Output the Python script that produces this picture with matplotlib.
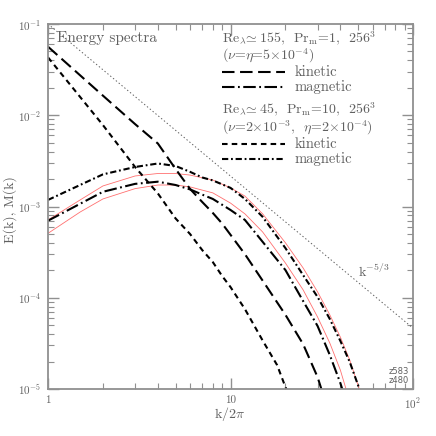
import numpy as np
import matplotlib
matplotlib.use("Agg")
import matplotlib.pyplot as plt

plt.rcParams.update({"font.family": "cmr10", "mathtext.fontset": "cm",
                     "axes.formatter.use_mathtext": True,
                     "lines.scale_dashes": False})

GREY = "#606060"

# Pr_m = 1 run (black curves at integer k)
k_pr1 = [1, 2, 3, 4, 5, 6, 7, 8, 9, 10, 12, 15, 20, 25, 30, 32]
ekin_pr1 = [0.0564, 0.0164, 0.0080, 0.0049, 0.00258, 0.00156, 0.00112, 0.00085,
            0.00065, 0.00049, 0.00030, 1.54e-4, 6.5e-5, 3.1e-5, 1.35e-5, 9.0e-6]
k_mag1 = [1, 2, 3, 4, 5, 6, 7, 8, 10, 12, 15, 20, 25, 30, 35, 40, 42]
emag_pr1 = [0.000699, 0.00145, 0.00177, 0.00187, 0.00172, 0.00154, 0.00135, 0.00121,
            0.000916, 0.000712, 0.00041, 0.000201, 9.2e-5, 4.9e-5, 2.36e-5, 1.16e-5, 8.5e-6]

# Pr_m = 10 run
k_pr10 = [1, 2, 3, 4, 5, 6, 7, 8, 9, 10, 12, 15, 18, 20, 21]
ekin_pr10 = [0.0431, 0.0078, 0.00271, 0.00139, 0.00074, 0.00050, 0.000333, 0.000246,
             0.000173, 0.000131, 7.5e-5, 3.4e-5, 1.83e-5, 1.05e-5, 8.5e-6]
k_mag10 = [1, 2, 3, 4, 5, 6, 7, 8, 10, 12, 15, 20, 25, 30, 35, 40, 45, 50, 52]
emag_pr10 = [0.00118, 0.00225, 0.00271, 0.00296, 0.00278, 0.00240, 0.00208, 0.00193,
             0.0016, 0.00121, 0.00077, 0.00035, 1.77e-4, 1.02e-4, 5.85e-5, 3.36e-5,
             1.98e-5, 1.1e-5, 8.5e-6]

# thin red curves
k_red = [1, 1.5, 2, 3, 4, 5, 6, 8, 10, 12, 15, 20, 25, 30, 35, 40, 45, 50, 52]
red_a = [0.000712, 0.00118, 0.00168, 0.00216, 0.0023, 0.0023, 0.00221, 0.00195, 0.0016,
         0.0013, 0.00083, 0.0004, 2.12e-4, 1.16e-4, 6.5e-5, 3.7e-5, 2.08e-5, 1.1e-5, 8.5e-6]
k_redb = [1, 1.5, 2, 3, 4, 5, 6, 8, 10, 12, 15, 20, 25, 30, 35, 40, 44]
red_b = [0.000508, 0.00087, 0.00121, 0.00157, 0.00172, 0.00172, 0.00164, 0.00141,
         0.00109, 0.00083, 0.000526, 0.00024, 1.22e-4, 6.15e-5, 3.19e-5, 1.61e-5, 8.5e-6]

# k^-5/3 reference
k_ref = [1, 100]
e_ref = [0.1, 4.64e-5]

LONG = (0, (9, 4))
SHORT = (0, (4, 3))
LONGDD = (0, (9, 2.5, 1.3, 2.5))
SHORTDD = (0, (4.5, 2, 1.3, 2))

fig = plt.figure(figsize=(4.36, 4.36), dpi=100)
ax = fig.add_axes([48 / 436, 1 - 389 / 436, 365 / 436, 365 / 436])

ax.plot(k_ref, e_ref, ls=":", color=GREY, lw=0.7)
ax.plot(k_red, red_a, color="#ff7070", lw=0.6)
ax.plot(k_redb, red_b, color="#ff7070", lw=0.6)
ax.plot(k_pr1, ekin_pr1, color="k", lw=1.5, ls=LONG)
ax.plot(k_mag1, emag_pr1, color="k", lw=1.5, ls=LONGDD)
ax.plot(k_pr10, ekin_pr10, color="k", lw=1.5, ls=SHORT)
ax.plot(k_mag10, emag_pr10, color="k", lw=1.5, ls=SHORTDD)

ax.set_xscale("log")
ax.set_yscale("log")
ax.set_xlim(1, 100)
ax.set_ylim(1e-5, 1e-1)
ax.set_xticks([1, 10, 100])
ax.set_xticklabels(["1", "10", r"$10^2$"])
for s in ax.spines.values():
    s.set_color("#909090")
    s.set_linewidth(1.3)
ax.tick_params(which="both", direction="in", top=True, right=True, colors="#909090",
               labelcolor=GREY, labelsize=8, pad=5)
ax.tick_params(which="major", length=8, width=1)
ax.tick_params(which="minor", length=4, width=0.8)

# axis titles placed at the reference pixel positions
fig.text(10 / 436, 1 - 210 / 436, "E(k), M(k)", fontsize=10, color=GREY,
         rotation=90, ha="center", va="center")
fig.text(230 / 436, 1 - 414 / 436, r"k/2$\pi$", fontsize=10, color=GREY,
         ha="center", va="center")

ax.text(0.025, 0.962, "Energy spectra", fontsize=11, color=GREY,
        transform=ax.transAxes, va="center")

# legend block
tx = (221.7 - 48) / 365
def yax(py):
    return (389 - py) / 365
lines = [(38, r"Re$_\lambda\!\simeq$155,  Pr$_{\rm m}$=1,  256$^3$"),
         (56, r"($\nu$=$\eta$=5$\times$10$^{-4}$)"),
         (109.5, r"Re$_\lambda\!\simeq$45,  Pr$_{\rm m}$=10,  256$^3$"),
         (128, r"($\nu$=2$\times$10$^{-3}$,  $\eta$=2$\times$10$^{-4}$)")]
for py, s in lines:
    ax.text(tx, yax(py), s, fontsize=10, color=GREY, transform=ax.transAxes, va="center")
samples = [(72, LONG, "kinetic"), (87, LONGDD, "magnetic"),
           (144, SHORT, "kinetic"), (159, SHORTDD, "magnetic")]
x0, x1 = tx, (285 - 48) / 365
for py, ls, lab in samples:
    ax.plot([x0, x1], [yax(py), yax(py)], color="k", lw=1.5, ls=ls,
            transform=ax.transAxes)
    ax.text((295 - 48) / 365, yax(py), lab, fontsize=10.5, color=GREY,
            transform=ax.transAxes, va="center")

ax.text((358 - 48) / 365, yax(271), r"k$^{-5/3}$", fontsize=10, color=GREY,
        transform=ax.transAxes, va="center")
ax.text((389 - 48) / 365, yax(376), "z583\nz480", fontsize=6, color=GREY,
        family="DejaVu Sans", transform=ax.transAxes, va="center", linespacing=1.0)

fig.savefig("out.png", dpi=100)
